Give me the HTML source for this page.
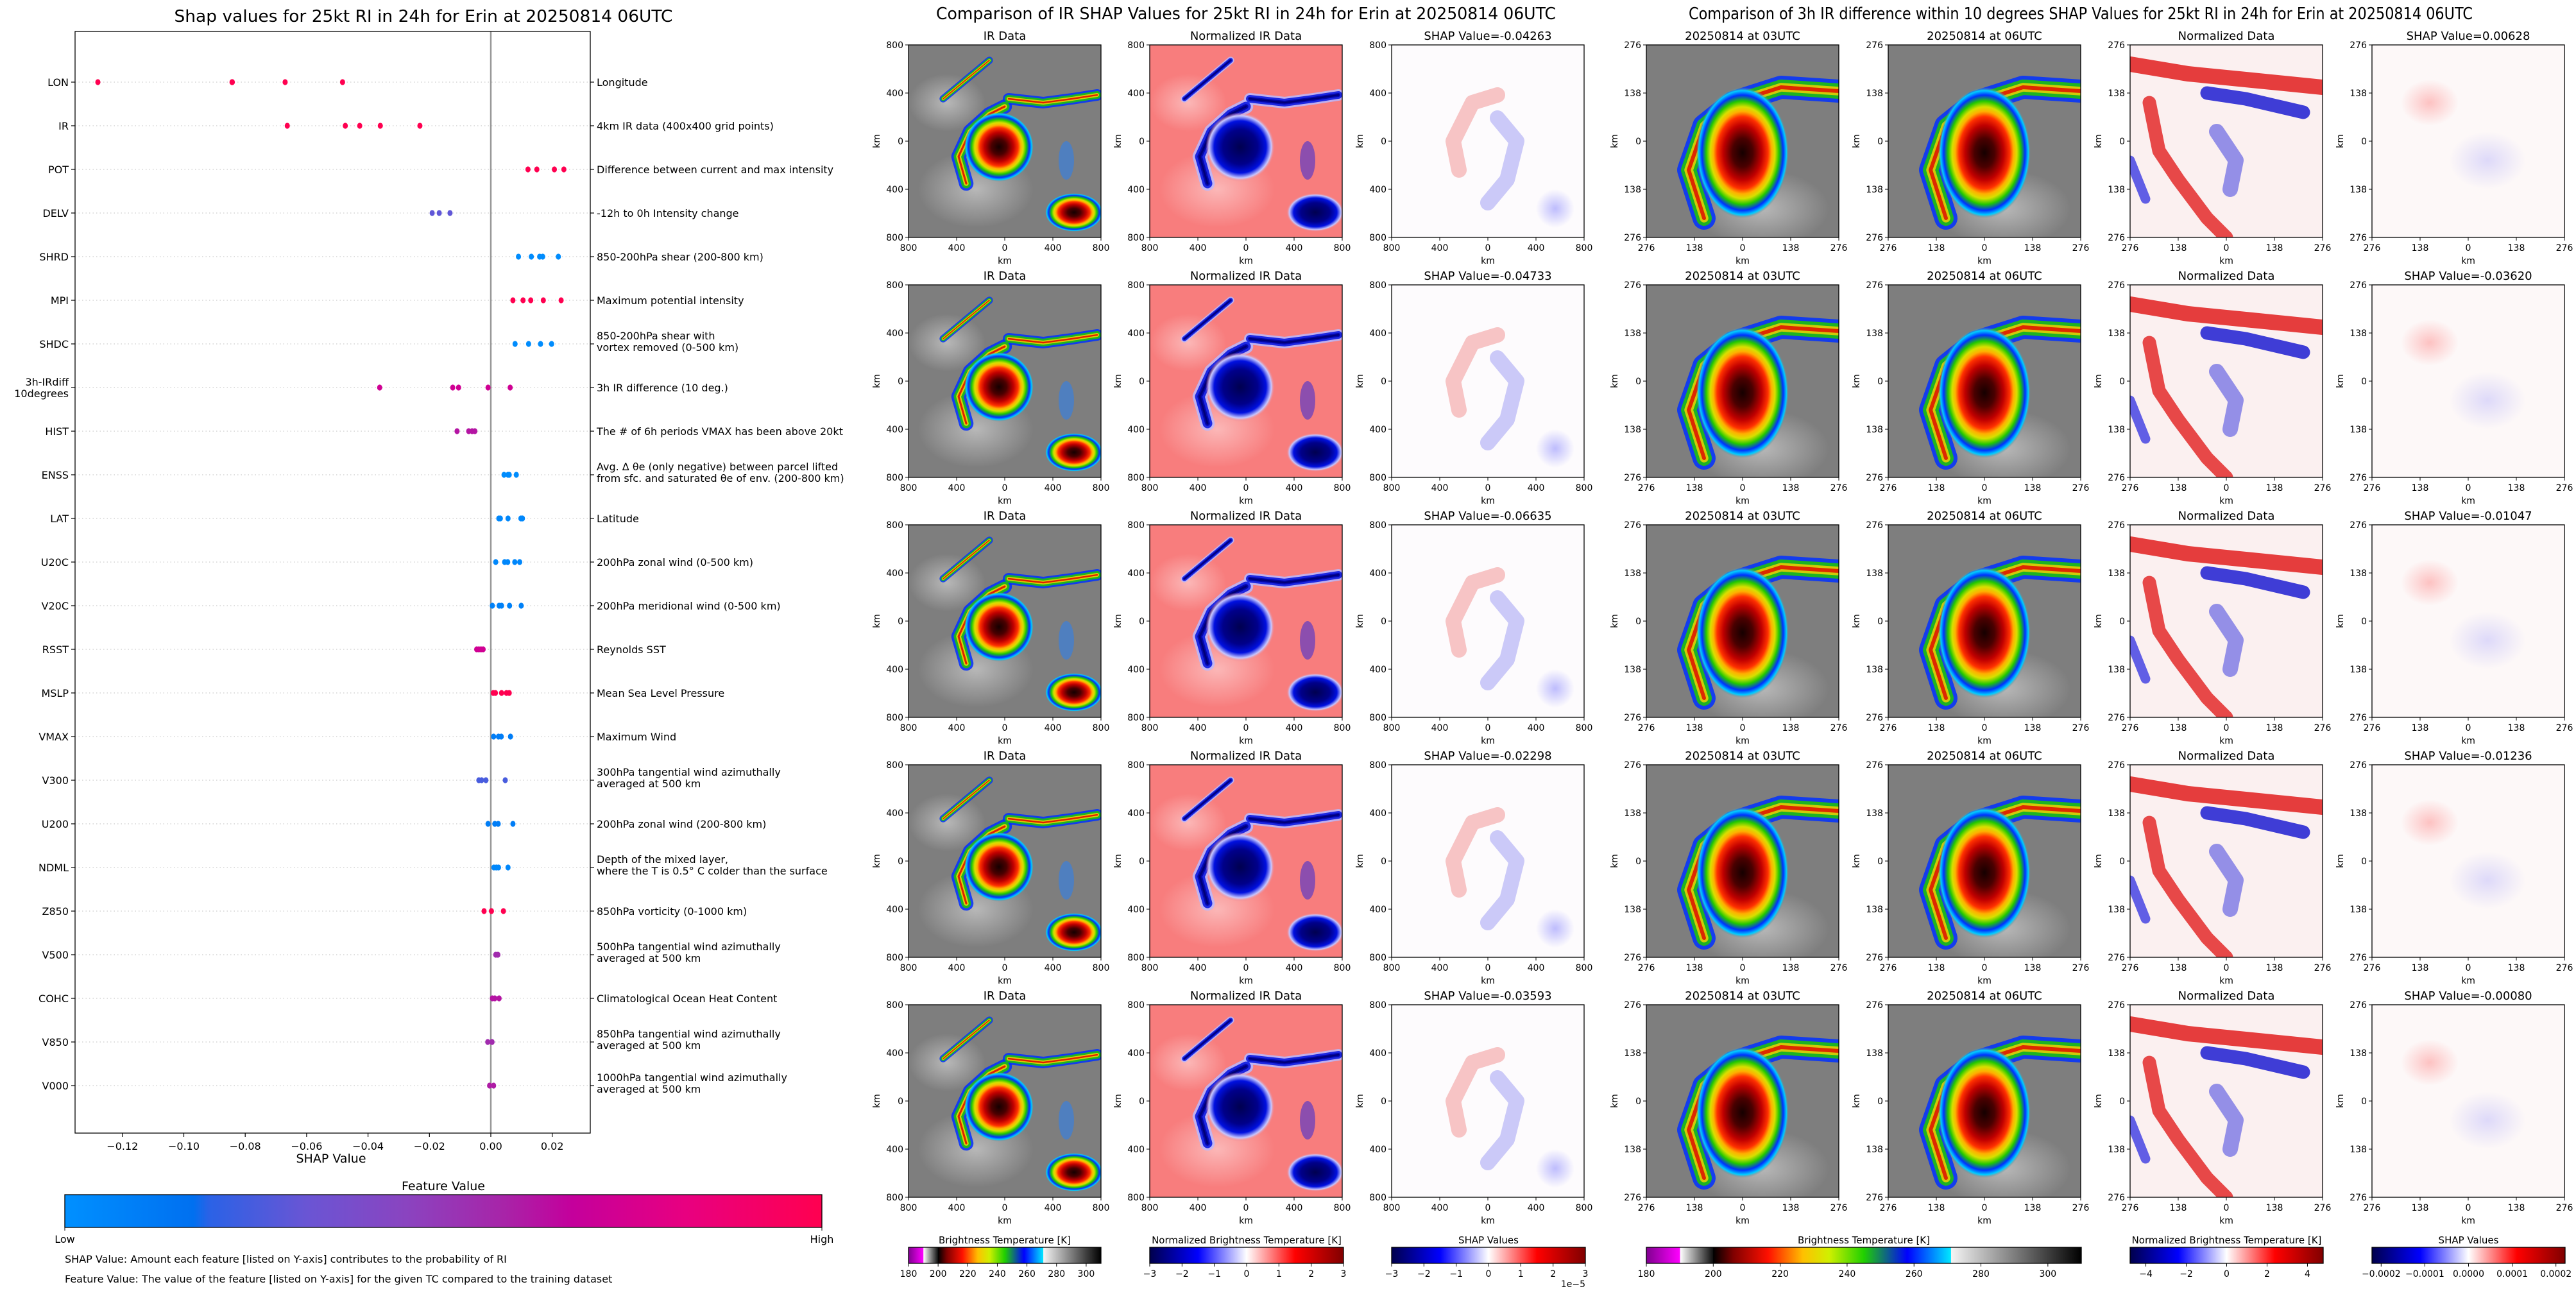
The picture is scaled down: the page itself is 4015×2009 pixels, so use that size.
<!DOCTYPE html>
<html><head><meta charset="utf-8">
<style>
html,body{margin:0;padding:0;background:#fff;}
svg{display:block;font-family:"DejaVu Sans","Liberation Sans",sans-serif;}
</style></head>
<body>
<svg id="fig" width="4015" height="2009" viewBox="0 0 4015 2009" xmlns="http://www.w3.org/2000/svg">
<defs>
  <radialGradient id="irEye" cx="0.5" cy="0.5" r="0.5">
    <stop offset="0" stop-color="#150000"/>
    <stop offset="0.22" stop-color="#4a0000"/>
    <stop offset="0.42" stop-color="#c00000"/>
    <stop offset="0.55" stop-color="#ff3000"/>
    <stop offset="0.63" stop-color="#ffb000"/>
    <stop offset="0.7" stop-color="#d8e000"/>
    <stop offset="0.79" stop-color="#20c800"/>
    <stop offset="0.88" stop-color="#0030ff"/>
    <stop offset="0.95" stop-color="#00d0ff"/>
    <stop offset="1" stop-color="#808080" stop-opacity="0"/>
  </radialGradient>
  <radialGradient id="normEye" cx="0.5" cy="0.5" r="0.5">
    <stop offset="0" stop-color="#000050"/>
    <stop offset="0.5" stop-color="#00008a"/>
    <stop offset="0.75" stop-color="#0010e0"/>
    <stop offset="0.9" stop-color="#c8c8ff"/>
    <stop offset="1" stop-color="#f77b7b" stop-opacity="0"/>
  </radialGradient>
  <radialGradient id="whiteGlow" cx="0.5" cy="0.5" r="0.5">
    <stop offset="0" stop-color="#ffffff" stop-opacity="0.45"/>
    <stop offset="1" stop-color="#ffffff" stop-opacity="0"/>
  </radialGradient>
  <radialGradient id="pinkGlow" cx="0.5" cy="0.5" r="0.5">
    <stop offset="0" stop-color="#ff0000" stop-opacity="0.22"/>
    <stop offset="1" stop-color="#ff0000" stop-opacity="0"/>
  </radialGradient>
  <radialGradient id="blueGlow" cx="0.5" cy="0.5" r="0.5">
    <stop offset="0" stop-color="#0000ff" stop-opacity="0.25"/>
    <stop offset="1" stop-color="#0000ff" stop-opacity="0"/>
  </radialGradient>
  <linearGradient id="featGrad" x1="0" x2="1" y1="0" y2="0">
    <stop offset="0" stop-color="#0090ff"/>
    <stop offset="0.17" stop-color="#0070f0"/>
    <stop offset="0.19" stop-color="#2a62e6"/>
    <stop offset="0.32" stop-color="#6a55d4"/>
    <stop offset="0.45" stop-color="#8a44c0"/>
    <stop offset="0.58" stop-color="#a824a8"/>
    <stop offset="0.67" stop-color="#c4009c"/>
    <stop offset="0.82" stop-color="#e80080"/>
    <stop offset="1" stop-color="#ff0050"/>
  </linearGradient>
  <linearGradient id="irGrad" x1="0" x2="1" y1="0" y2="0">
    <stop offset="0" stop-color="#800090"/>
    <stop offset="0.077" stop-color="#ff00ff"/>
    <stop offset="0.078" stop-color="#ffffff"/>
    <stop offset="0.153" stop-color="#101010"/>
    <stop offset="0.154" stop-color="#000000"/>
    <stop offset="0.2" stop-color="#800000"/>
    <stop offset="0.28" stop-color="#ff1000"/>
    <stop offset="0.36" stop-color="#ffc000"/>
    <stop offset="0.42" stop-color="#d0f000"/>
    <stop offset="0.5" stop-color="#20d000"/>
    <stop offset="0.6" stop-color="#0000ff"/>
    <stop offset="0.7" stop-color="#00e8ff"/>
    <stop offset="0.701" stop-color="#f4f4f4"/>
    <stop offset="1" stop-color="#000000"/>
  </linearGradient>
  <linearGradient id="seisGrad" x1="0" x2="1" y1="0" y2="0">
    <stop offset="0" stop-color="#00004c"/>
    <stop offset="0.25" stop-color="#0000ff"/>
    <stop offset="0.5" stop-color="#ffffff"/>
    <stop offset="0.75" stop-color="#ff0000"/>
    <stop offset="1" stop-color="#800000"/>
  </linearGradient>
</defs>
<g id="root"></g>
</svg>
<script>
// ===== Beeswarm data =====
const features = ["LON","IR","POT","DELV","SHRD","MPI","SHDC","3h-IRdiff|10degrees","HIST","ENSS","LAT","U20C","V20C","RSST","MSLP","VMAX","V300","U200","NDML","Z850","V500","COHC","V850","V000"];
const descriptions = ["Longitude","4km IR data (400x400 grid points)","Difference between current and max intensity","-12h to 0h Intensity change","850-200hPa shear (200-800 km)","Maximum potential intensity","850-200hPa shear with|vortex removed (0-500 km)","3h IR difference (10 deg.)","The # of 6h periods VMAX has been above 20kt","Avg. \u0394 \u03b8e (only negative) between parcel lifted|from sfc. and saturated \u03b8e of env. (200-800 km)","Latitude","200hPa zonal wind (0-500 km)","200hPa meridional wind (0-500 km)","Reynolds SST","Mean Sea Level Pressure","Maximum Wind","300hPa tangential wind azimuthally|averaged at 500 km","200hPa zonal wind (200-800 km)","Depth of the mixed layer,|where the T is 0.5\u00b0 C colder than the surface","850hPa vorticity (0-1000 km)","500hPa tangential wind azimuthally|averaged at 500 km","Climatological Ocean Heat Content","850hPa tangential wind azimuthally|averaged at 500 km","1000hPa tangential wind azimuthally|averaged at 500 km"];
const shapValues = [
 [-0.128,-0.0843,-0.0842,-0.067,-0.0483],
 [-0.0663,-0.0474,-0.0427,-0.036,-0.0231],
 [0.0121,0.0150,0.0207,0.0238],
 [-0.0191,-0.0168,-0.0133],
 [0.0090,0.0132,0.0159,0.0169,0.0220],
 [0.0072,0.0105,0.0130,0.0171,0.0229],
 [0.0079,0.0123,0.0162,0.0198],
 [-0.0362,-0.0124,-0.0105,-0.0009,0.0063],
 [-0.0110,-0.0072,-0.0061,-0.0052],
 [0.0043,0.0056,0.0060,0.0083],
 [0.0026,0.0031,0.0056,0.0098,0.0103],
 [0.0016,0.0045,0.0055,0.0078,0.0094],
 [0.0005,0.0027,0.0035,0.0061,0.0099],
 [-0.0046,-0.0039,-0.0032,-0.0025],
 [0.0008,0.0015,0.0035,0.0051,0.0060],
 [0.0009,0.0025,0.0034,0.0064],
 [-0.0039,-0.0030,-0.0016,0.0047],
 [-0.0009,0.0013,0.0024,0.0072],
 [0.0010,0.0018,0.0025,0.0056],
 [-0.0022,0.0002,0.0041],
 [0.0016,0.0023],
 [0.0005,0.0013,0.0027],
 [-0.0010,0.0004],
 [-0.0004,0.0009]
];
const featureValues = [1,1,1,0.3,0.02,1,0.02,0.72,0.62,0.02,0.05,0.05,0.08,0.72,1,0.1,0.25,0.1,0.05,1,0.55,0.62,0.55,0.6];
const xTicks = [-0.12,-0.10,-0.08,-0.06,-0.04,-0.02,0.00,0.02];
const irShapTitles = [-0.04263,-0.04733,-0.06635,-0.02298,-0.03593];
const diffShapTitles = [0.00628,-0.03620,-0.01047,-0.01236,-0.00080];
const irCbTicks = [180,200,220,240,260,280,300];
const normCbTicks = [-3,-2,-1,0,1,2,3];
const shapCbTicks = [-3,-2,-1,0,1,2,3];
const norm2CbTicks = [-4,-2,0,2,4];
const shap2CbTicks = [-0.0002,-0.0001,0.0000,0.0001,0.0002];
const irKmTicks = [800,400,0,400,800];
const diffKmTicks = [276,138,0,138,276];

const NS="http://www.w3.org/2000/svg";
const root=document.getElementById('root');
function el(tag,attrs,parent){const e=document.createElementNS(NS,tag);for(const k in attrs)e.setAttribute(k,attrs[k]);(parent||root).appendChild(e);return e;}
function txt(s,attrs,parent){const t=el('text',attrs,parent);t.textContent=s;return t;}
function fmtMinus(s){return String(s).replace('-','\u2212');}

// ===== Beeswarm axes =====
const AX={l:117,r:920,t:49,b:1766};
const x0=765, pxPerUnit=4785;
function xs(v){return x0+v*pxPerUnit;}
function ys(i){return 128+i*68;}
const cmapStops=[[0,[0,144,255]],[0.17,[0,112,240]],[0.19,[42,98,230]],[0.32,[106,85,212]],[0.45,[138,68,192]],[0.58,[168,36,168]],[0.67,[196,0,156]],[0.82,[232,0,128]],[1,[255,0,80]]];
function cmap(v){for(let i=1;i<cmapStops.length;i++){if(v<=cmapStops[i][0]){const a=cmapStops[i-1],b=cmapStops[i];const f=(v-a[0])/(b[0]-a[0]);const c=a[1].map((x,j)=>Math.round(x+(b[1][j]-x)*f));return `rgb(${c.join(',')})`;}}return 'rgb(255,0,80)';}

const bee=el('g',{});


const t1=txt('Shap values for 25kt RI in 24h for Erin at 20250814 06UTC',{x:660,y:34,'text-anchor':'middle','font-size':26,textLength:777,lengthAdjust:'spacingAndGlyphs'},bee);



features.forEach((f,i)=>{
  const y=ys(i);
  const gl=el('line',{x1:AX.l,x2:AX.r,y1:y,y2:y,stroke:'#cccccc','stroke-width':1.2,'stroke-dasharray':'1.5,4'},bee);
  
  
  el('line',{x1:AX.l-6,x2:AX.l,y1:y,y2:y,stroke:'#000','stroke-width':1.2},bee);
  el('line',{x1:AX.r,x2:AX.r+6,y1:y,y2:y,stroke:'#000','stroke-width':1.2},bee);
  const lines=f.split('|');
  const lab=el('text',{x:AX.l-10,'text-anchor':'end','font-size':16},bee);
  
  
  lines.forEach((s,k)=>{const ts=el('tspan',{x:AX.l-10,y:y+6+(k-(lines.length-1)/2)*18},lab);ts.textContent=s;});
  const dl=descriptions[i].split('|');
  const dlab=el('text',{x:930,'font-size':16},bee);
  
  
  dl.forEach((s,k)=>{const ts=el('tspan',{x:930,y:y+6+(k-(dl.length-1)/2)*18-(dl.length>1?4:0)},dlab);ts.textContent=s;});
});
const zl=el('line',{x1:x0,x2:x0,y1:AX.t,y2:AX.b,stroke:'#999999','stroke-width':2.5},bee);


features.forEach((f,i)=>{
  const y=ys(i);
  shapValues[i].forEach(v=>{
    const p=el('ellipse',{cx:xs(v),cy:y,rx:4,ry:4.6,fill:cmap(featureValues[i])},bee);
    
    
  });
});
const frame=el('rect',{x:AX.l,y:AX.t,width:AX.r-AX.l,height:AX.b-AX.t,fill:'none',stroke:'#000','stroke-width':1.3},bee);


xTicks.forEach(v=>{
  const x=xs(v);
  el('line',{x1:x,x2:x,y1:AX.b,y2:AX.b+6,stroke:'#000','stroke-width':1.2},bee);
  const tl=txt(fmtMinus(v.toFixed(2)),{x:x,y:AX.b+26,'text-anchor':'middle','font-size':16},bee);
  
  
});
const xt=txt('SHAP Value',{x:516,y:1812,'text-anchor':'middle','font-size':19},bee);


const fvt=txt('Feature Value',{x:691,y:1855,'text-anchor':'middle','font-size':19},bee);


const fcb=el('rect',{x:101,y:1862,width:1180,height:51,fill:'url(#featGrad)',stroke:'#000','stroke-width':1.3},bee);


el('line',{x1:101,x2:101,y1:1913,y2:1918,stroke:'#000'},bee);
el('line',{x1:1281,x2:1281,y1:1913,y2:1918,stroke:'#000'},bee);
const lo=txt('Low',{x:101,y:1937,'text-anchor':'middle','font-size':16},bee);


const hi=txt('High',{x:1281,y:1937,'text-anchor':'middle','font-size':16},bee);


const n1=txt('SHAP Value: Amount each feature [listed on Y-axis] contributes to the probability of RI',{x:101,y:1968,'font-size':16},bee);


const n2=txt('Feature Value: The value of the feature [listed on Y-axis] for the given TC compared to the training dataset',{x:101,y:1999,'font-size':16},bee);



// ===== Image panels =====
let clipId=0;
function panelShapes(g,x,y,w,h,kind){
  const cid='c'+(clipId++);
  const cp=el('clipPath',{id:cid},g);
  el('rect',{x:x,y:y,width:w,height:h},cp);
  const c=el('g',{'clip-path':`url(#${cid})`},g);
  const P=(fx,fy)=>`${(x+fx*w).toFixed(1)},${(y+fy*h).toFixed(1)}`;
  const band=(pts,col,wd,op)=>el('path',{d:'M'+pts.map(p=>P(p[0],p[1])).join(' L'),fill:'none',stroke:col,'stroke-width':wd*w,'stroke-linejoin':'round','stroke-linecap':'round',opacity:op||1},c);
  if(kind==='ir'||kind==='norm'){
    const isIr=kind==='ir';
    el('rect',{x:x,y:y,width:w,height:h,fill:isIr?'#7e7e7e':'#f87d7d'},c);
    el('ellipse',{cx:x+0.35*w,cy:y+0.75*h,rx:0.3*w,ry:0.2*h,fill:'url(#whiteGlow)'},c);
    el('ellipse',{cx:x+0.2*w,cy:y+0.3*h,rx:0.2*w,ry:0.15*h,fill:'url(#whiteGlow)'},c);
    const sp=[[0.3,0.72],[0.26,0.58],[0.32,0.45],[0.42,0.36],[0.5,0.32]];
    const top=[[0.52,0.28],[0.7,0.3],[0.85,0.28],[0.98,0.26]];
    const up=[[0.18,0.28],[0.3,0.18],[0.42,0.08]];
    const cols=isIr?['#0030ff','#20c800','#ffd000','#e00000']:['#b8b8ff','#0010e0','#0000a0','#000070'];
    [[0.075,0],[0.05,1],[0.025,2],[0.01,3]].forEach(([wd,k])=>{band(sp,cols[k],wd,0.85);band(top,cols[k],wd*0.8,0.85);band(up,cols[k],wd*0.5,0.85);});
    el('ellipse',{cx:x+0.47*w,cy:y+0.53*h,rx:0.18*w,ry:0.18*h,fill:isIr?'url(#irEye)':'url(#normEye)'},c);
    el('ellipse',{cx:x+0.86*w,cy:y+0.87*h,rx:0.15*w,ry:0.1*h,fill:isIr?'url(#irEye)':'url(#normEye)'},c);
    el('ellipse',{cx:x+0.82*w,cy:y+0.6*h,rx:0.04*w,ry:0.1*h,fill:isIr?'#2080ff':'#2020e0',opacity:0.5},c);
  } else if(kind==='shap'){
    el('rect',{x:x,y:y,width:w,height:h,fill:'#fdfbfd'},c);
    band([[0.35,0.65],[0.32,0.5],[0.42,0.3],[0.55,0.26]],'#f08080',0.08,0.45);
    band([[0.55,0.38],[0.65,0.5],[0.6,0.7],[0.5,0.82]],'#8080f0',0.08,0.4);
    el('ellipse',{cx:x+0.85*w,cy:y+0.85*h,rx:0.1*w,ry:0.1*h,fill:'url(#blueGlow)'},c);
  } else if(kind==='ir2'){
    el('rect',{x:x,y:y,width:w,height:h,fill:'#7e7e7e'},c);
    el('ellipse',{cx:x+0.6*w,cy:y+0.85*h,rx:0.35*w,ry:0.2*h,fill:'url(#whiteGlow)'},c);
    const sp=[[0.3,0.9],[0.22,0.65],[0.3,0.42],[0.45,0.3],[0.7,0.22],[1.0,0.24]];
    [['#0030ff',0.12,0.85],['#20c800',0.08,0.85],['#ffd000',0.045,0.8],['#e00000',0.02,0.8]].forEach(([col,wd,op])=>band(sp,col,wd,op));
    el('ellipse',{cx:x+0.5*w,cy:y+0.56*h,rx:0.24*w,ry:0.34*h,fill:'url(#irEye)'},c);
  } else if(kind==='norm2'){
    el('rect',{x:x,y:y,width:w,height:h,fill:'#fbf0f0'},c);
    band([[0.0,0.1],[0.3,0.15],[0.6,0.18],[1.0,0.22]],'#e01010',0.08,0.8);
    band([[0.4,0.25],[0.6,0.28],[0.9,0.35]],'#1010d0',0.07,0.8);
    band([[0.1,0.3],[0.15,0.55],[0.25,0.7],[0.4,0.9],[0.5,1]],'#e01010',0.07,0.75);
    band([[0.45,0.45],[0.55,0.6],[0.52,0.75]],'#4040e0',0.08,0.55);
    band([[0.0,0.6],[0.08,0.8]],'#2020e0',0.05,0.7);
  } else {
    el('rect',{x:x,y:y,width:w,height:h,fill:'#fdf8f8'},c);
    el('ellipse',{cx:x+0.3*w,cy:y+0.3*h,rx:0.15*w,ry:0.12*h,fill:'url(#pinkGlow)'},c);
    el('ellipse',{cx:x+0.6*w,cy:y+0.6*h,rx:0.2*w,ry:0.15*h,fill:'url(#blueGlow)',opacity:0.5},c);
  }
}
function panel(x,y,kind,title,ticks,name){
  const w=300,h=300;
  const g=el('g',{});
  
  
  panelShapes(g,x,y,w,h,kind);
  el('rect',{x:x,y:y,width:w,height:h,fill:'none',stroke:'#000','stroke-width':1.3},g);
  const tt=txt(title,{x:x+w/2,y:y-8,'text-anchor':'middle','font-size':18},g);
  
  
  ticks.forEach((v,k)=>{
    const px=x+k*w/4, py=y+k*h/4;
    el('line',{x1:px,x2:px,y1:y+h,y2:y+h+5,stroke:'#000'},g);
    el('line',{x1:x-5,x2:x,y1:py,y2:py,stroke:'#000'},g);
    txt(String(v),{x:px,y:y+h+21,'text-anchor':'middle','font-size':14},g);
    txt(String(v),{x:x-8,y:py+5,'text-anchor':'end','font-size':14},g);
  });
  txt('km',{x:x+w/2,y:y+h+41,'text-anchor':'middle','font-size':14},g);
  txt('km',{x:0,y:0,'text-anchor':'middle','font-size':14,transform:`translate(${x-45},${y+h/2}) rotate(-90)`},g);
}
const t2=txt('Comparison of IR SHAP Values for 25kt RI in 24h for Erin at 20250814 06UTC',{x:1942,y:30,'text-anchor':'middle','font-size':26,textLength:966,lengthAdjust:'spacingAndGlyphs'});


const t3=txt('Comparison of 3h IR difference within 10 degrees SHAP Values for 25kt RI in 24h for Erin at 20250814 06UTC',{x:3243,y:30,'text-anchor':'middle','font-size':26,textLength:1222,lengthAdjust:'spacingAndGlyphs'});


const colsX=[1416,1792,2169,2566,2943,3320,3697];
for(let r=0;r<5;r++){
  const y=70+r*374;
  panel(colsX[0],y,'ir','IR Data',irKmTicks,'ir-data-panel');
  panel(colsX[1],y,'norm','Normalized IR Data',irKmTicks,'normalized-ir-panel');
  panel(colsX[2],y,'shap','SHAP Value='+irShapTitles[r].toFixed(5),irKmTicks,'ir-shap-panel');
  panel(colsX[3],y,'ir2','20250814 at 03UTC',diffKmTicks,'ir-03utc-panel');
  panel(colsX[4],y,'ir2','20250814 at 06UTC',diffKmTicks,'ir-06utc-panel');
  panel(colsX[5],y,'norm2','Normalized Data',diffKmTicks,'normalized-diff-panel');
  panel(colsX[6],y,'shap2','SHAP Value='+diffShapTitles[r].toFixed(5),diffKmTicks,'diff-shap-panel');
}
// ===== Colorbars =====
function colorbar(x,w,grad,title,ticks,vmin,vmax,fmt,name){
  const g=el('g',{});
  
  
  txt(title,{x:x+w/2,y:1938,'text-anchor':'middle','font-size':15},g);
  el('rect',{x:x,y:1944,width:w,height:25,fill:`url(#${grad})`,stroke:'#000','stroke-width':1.3},g);
  ticks.forEach(v=>{
    const px=x+(v-vmin)/(vmax-vmin)*w;
    el('line',{x1:px,x2:px,y1:1969,y2:1974,stroke:'#000'},g);
    txt(fmtMinus(fmt(v)),{x:px,y:1990,'text-anchor':'middle','font-size':14},g);
  });
}
colorbar(1416,300,'irGrad','Brightness Temperature [K]',irCbTicks,180,310,v=>String(v),'ir-colorbar');
colorbar(1792,302,'seisGrad','Normalized Brightness Temperature [K]',normCbTicks,-3,3,v=>String(v),'normalized-colorbar');
colorbar(2169,302,'seisGrad','SHAP Values',shapCbTicks,-3,3,v=>String(v),'shap-colorbar');
const ex=txt('1e\u22125',{x:2471,y:2006,'text-anchor':'end','font-size':14});


colorbar(2566,678,'irGrad','Brightness Temperature [K]',irCbTicks,180,310,v=>String(v),'ir-diff-colorbar');
colorbar(3320,301,'seisGrad','Normalized Brightness Temperature [K]',norm2CbTicks,-4.78,4.78,v=>String(v),'normalized-diff-colorbar');
colorbar(3697,301,'seisGrad','SHAP Values',shap2CbTicks,-0.000221,0.000221,v=>v.toFixed(4),'diff-shap-colorbar');
</script>
</body></html>
